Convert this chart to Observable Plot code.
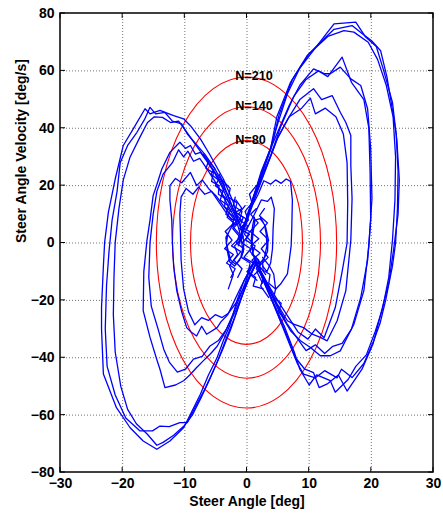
<!DOCTYPE html>
<html><head><meta charset="utf-8">
<script src="https://cdn.jsdelivr.net/npm/d3@7"></script>
<script src="https://cdn.jsdelivr.net/npm/@observablehq/plot@0.6"></script>
<style>
body{margin:0;background:#fff}
#chart svg{font-family:"Liberation Sans",Arial,sans-serif;font-weight:bold;}
#chart [aria-label^="x-axis"] text,#chart [aria-label^="y-axis"] text{font-size:14px;font-weight:bold;font-family:"Liberation Sans",Arial,sans-serif;}
</style>
</head><body><div id="chart"></div>
<script>
// ---- axis ticks ----
const xTicks = [-30, -20, -10, 0, 10, 20, 30];
const yTicks = [-80, -60, -40, -20, 0, 20, 40, 60, 80];
const xLabel = "Steer Angle [deg]";
const yLabel = "Steer Angle Velocity [deg/s]";

// ---- constant-N ellipses (semi-axes) ----
const ellipseLabels = ["N=80", "N=140", "N=210"];
const ellipseRx = [9.0, 11.9, 14.5];
const ellipseRy = [35.5, 47.3, 57.7];

// ---- right-hand loops ----
const right1 = [[-1.3,0],[-0.3,7],[0.9,15],[2.3,25],[3.8,33],[4.8,44],[7,56],[9.7,65.4],[12.4,71.2],[14,74.5],[16.9,75.8],[18.5,73],[20,70.6],[21.5,67],[22.5,58],[23.1,50.3],[24,38],[24.3,25],[24.2,12],[23.9,0],[23.4,-8],[22.3,-20],[21.4,-28],[20.4,-34],[18.8,-42],[16.9,-46.9],[15.2,-44],[14.5,-47],[12.5,-44.5],[11,-47],[9.1,-45.7],[8.1,-42],[6.8,-35],[5.5,-28],[4.2,-21],[2.8,-14],[1.3,-6]];
const right2 = [[-1.2,1],[-0.2,8],[1,16],[2.2,23],[3.5,31],[5,42],[6.5,52],[8.5,61],[11,68],[14,76.4],[17.5,77],[19,72],[20.8,68.5],[22,60],[23.4,49],[24.1,36],[24.5,22],[24.3,10],[23.6,-2],[22.8,-14],[21.6,-24],[20.3,-35],[18.5,-44],[16.1,-51.6],[14.7,-46],[13,-49],[11.6,-50.4],[10.7,-45.2],[9.3,-44],[7.8,-40],[6.2,-31],[4.6,-23],[3,-15],[1.5,-7]];
const right3 = [[-1.4,-1],[-0.4,6],[0.8,14],[2,22],[3.2,29],[3.9,33],[5.2,45],[7.3,57],[10,66],[13,72],[15.6,74],[17.2,73.5],[19.5,70],[21,64],[22.4,55],[23.5,44],[23.9,30],[23.8,15],[23.4,1],[22.8,-12],[21.8,-23],[20.6,-31],[19.2,-39],[17.5,-43],[16.3,-47.5],[14.2,-52],[13.4,-48],[11.2,-46],[10,-49.5],[8.5,-44],[7.6,-38],[6,-29],[4.3,-21],[2.7,-13],[1.2,-6]];
const right4 = [[-1.1,1],[0,9],[1.2,17],[2.4,25],[3.6,32],[5,39],[6.8,48],[8.5,55],[10.7,60.7],[12.5,59],[13.4,59],[15,61.3],[16.7,57.2],[18.3,54.9],[19.4,46.8],[19.9,32.8],[20.1,15.5],[19.6,-1],[18.8,-16.6],[17.2,-28.3],[15,-37.6],[13.4,-39.3],[11.8,-39.3],[10.2,-36.4],[8.6,-34.1],[7,-30.6],[5.2,-24],[3.5,-16],[1.6,-7]];
const right5 = [[-1.3,0],[-0.1,8],[1.1,16],[2.5,24],[3.9,31],[5.5,41],[7.5,51],[9.5,57],[11.5,60],[13,58],[15.3,64.8],[16.8,56],[18.8,50],[19.6,40],[19.8,25],[19.9,8],[19.4,-6],[18.3,-19],[16.8,-30],[15.3,-35],[13.8,-36],[12.5,-38.5],[11,-35.5],[9.5,-37.5],[8,-33],[6.4,-28],[4.7,-21],[3,-14],[1.4,-6]];
const right6 = [[-1.2,0],[-0.1,7],[1,14],[2.2,21],[3.4,28],[4.8,36],[6.5,43],[8.5,50],[10.7,53.8],[12,50],[13.7,51.4],[15,45.6],[15.9,42],[16.7,37.5],[16.7,27],[16.9,15.5],[16.7,1],[15.9,-16.6],[14.5,-27.1],[12.9,-34.1],[11.8,-32.9],[10.5,-31.8],[9.1,-29.5],[7.5,-28.3],[6.5,-27.1],[4.8,-21],[3.2,-14],[1.5,-7]];
const right7 = [[-1.3,1],[-0.2,8],[1,15],[2.3,22],[3.6,29],[5,37],[6.8,44],[8.8,47],[10.2,50.5],[11,45],[12.6,47],[14.3,44],[15.5,38],[16.1,28],[16.2,14],[16.1,0],[15.3,-10],[14.2,-22.5],[12.4,-33],[11,-30],[9.8,-33.5],[8.2,-31],[7,-27],[5.5,-22],[3.8,-16],[2,-9]];

// ---- left-hand loops ----
const left1 = [[1.2,-6],[0.3,-10],[-0.5,-13.2],[-1.6,-20],[-2.7,-28.3],[-3.8,-34],[-4.8,-39.9],[-6.2,-46],[-7.5,-52.7],[-9.1,-59.7],[-10.2,-64.4],[-12.4,-69],[-14.5,-71.9],[-16.7,-69],[-18.8,-64.4],[-21,-57.4],[-23.1,-45.7],[-23.4,-30],[-23.4,-22.5],[-23.1,-8],[-22.9,0.2],[-22.3,10.7],[-21.2,22.3],[-19.9,34],[-18.3,39.8],[-16.4,46.8],[-15.6,45],[-14,46.2],[-11.8,44.4],[-10.2,43.3],[-9.1,40.9],[-7.5,36.3],[-5.9,30.5],[-3.8,22.3],[-2.2,14.2],[-1.4,8]];
const left2 = [[1.5,-7],[0.6,-11],[-0.4,-16],[-1.5,-23],[-2.6,-30],[-3.9,-37],[-5.3,-44],[-6.8,-51],[-8.3,-57],[-9.6,-62.6],[-10.8,-62.6],[-12.5,-64],[-14,-63.8],[-15.2,-65.5],[-17.2,-65.5],[-19.5,-61],[-21.2,-53],[-22.5,-43],[-22.8,-30],[-22.6,-15],[-22.2,-3],[-21.7,8],[-20.9,18],[-20.4,28],[-19.2,34],[-17.7,38.6],[-16.5,43],[-15.6,47.3],[-14.7,45],[-13.2,45.5],[-12,42.5],[-10.5,41.5],[-9.6,38],[-8.4,35],[-6.8,31],[-5.2,26],[-3.6,19.5],[-2.3,12],[-1.2,7]];
const left3 = [[1.4,-7.5],[0.2,-12.5],[-0.9,-19],[-2,-26],[-3.3,-33],[-4.6,-40.5],[-6,-47.5],[-7.4,-54],[-8.8,-60],[-10,-63.5],[-11.8,-67],[-13.5,-69.5],[-14.5,-70.5],[-16.1,-66.5],[-17.8,-63],[-19.2,-58],[-20.3,-50],[-21.2,-38],[-21.5,-25],[-21.4,-12],[-21.2,0.2],[-20.6,12],[-19.9,22],[-18.8,30],[-17.2,37],[-16,42],[-14.9,44],[-13.6,43.8],[-12.3,42],[-11,42.5],[-9.8,39],[-8.2,34],[-6.5,29],[-4.8,23.5],[-3.2,17],[-2,11],[-1.3,7]];
const left4 = [[1.3,-6],[0.2,-11],[-1,-18],[-2.3,-25],[-3.5,-31],[-4.8,-36],[-5.9,-38.7],[-7,-41],[-8.1,-43.4],[-9.2,-46],[-10.2,-48],[-11.5,-49.5],[-13.2,-50.4],[-14,-44],[-14.6,-40],[-15.6,-32.9],[-16.7,-23.6],[-16.6,-10],[-16.1,0.8],[-15.6,8],[-15.1,16.5],[-14.4,21],[-13.7,25.8],[-12.4,31.6],[-10.8,35.1],[-9.9,33],[-9.1,34],[-8.3,31],[-7.5,31.6],[-6.3,28],[-5.1,24],[-3.9,19],[-2.7,13],[-1.6,8]];
const left5 = [[1.5,-7],[0.4,-12],[-0.8,-18.5],[-2,-24.5],[-3.3,-30],[-4.6,-34],[-6,-36],[-7.2,-39.5],[-8.6,-40.5],[-9.9,-44],[-11.2,-45],[-12.5,-41.5],[-13.4,-37],[-14.3,-30],[-15.4,-22],[-15.8,-12],[-15.6,0.2],[-15.1,10],[-14.5,18],[-13.5,24],[-12,28],[-11,32.5],[-10.2,30],[-9.5,32],[-8.6,28.5],[-7.6,29.5],[-6.5,26],[-5.3,22],[-4,17],[-2.8,12],[-1.7,7.5]];
const left6 = [[1.3,-6.5],[0.3,-10],[-0.9,-15],[-2,-20],[-3.1,-25],[-4.2,-27.5],[-4.8,-29.5],[-6.5,-31.8],[-7.3,-29],[-8.1,-32.4],[-9,-31],[-9.7,-29.5],[-10.5,-24],[-11.3,-16.6],[-11.8,-8],[-12,0],[-12.1,8],[-12.4,15],[-12.4,20],[-11.5,22.5],[-10.5,21],[-9.1,24.6],[-8.1,20],[-7.2,22],[-6.2,19],[-5,16.5],[-3.8,13],[-2.7,10],[-1.6,7]];
const left7 = [[1.4,-7],[0.4,-11.5],[-0.6,-16],[-1.8,-21],[-3,-24.5],[-4,-26],[-5.1,-25],[-6.2,-27],[-7.3,-26],[-8.4,-28.5],[-9.4,-24],[-10.2,-16],[-10.6,-6],[-10.7,3],[-10.8,10],[-10.6,16],[-9.8,19],[-8.7,17],[-7.8,19.5],[-6.8,17],[-5.7,18],[-4.6,14.5],[-3.5,11],[-2.4,8]];

// ---- small loops and scribbles around the origin ----
const centerA = [[-1.5,8],[-2.4,6],[-3.1,3],[-3.3,0],[-3.0,-3],[-2.6,-6],[-1.8,-7.5],[-1.0,-5],[-0.7,-2],[-0.9,1],[-1.2,4],[-1.6,7],[-2.5,5.5],[-3.4,2],[-3.2,-2.5],[-2.8,-6.5],[-2,-8],[-1.2,-6],[-0.6,-3],[-0.5,0.5],[-0.9,4.5],[-1.5,8]];
const centerB = [[1.2,9],[0.9,6],[0.7,2],[0.8,-2],[1.2,-5.5],[2,-7.5],[2.8,-5],[3.2,-1],[3.1,3],[2.8,6.5],[2.1,8.5],[1.3,8],[1,4],[0.8,0],[1,-4],[1.6,-7],[2.5,-6.5],[3.3,-3],[3.4,1.5],[3,5.5],[2.2,9]];
const centerC = [[-3,-16],[-2.2,-11],[-2.8,-8],[-1.5,-4],[-2,-1],[-0.6,2],[-1,5],[0.2,8],[-0.3,11],[0.8,14],[0.4,17],[1.5,20]];
const centerD = [[2.5,-14],[1.6,-10],[2.2,-7],[0.8,-4],[1.3,-1],[-0.2,1],[0.4,4],[-1.1,6],[-0.6,9],[-2,11],[-1.6,14],[-3,16],[-2.7,19],[-4,22]];
const centerE = [[-4.5,24],[-3.6,20],[-4,17],[-2.8,14],[-3.2,11],[-2,9],[-2.4,6],[-1.2,3],[-1.7,0],[-0.5,-2],[-0.9,-5],[0.5,-7],[0.2,-10],[1.4,-12],[1,-15],[2.6,-16]];
const centerF = [[3.5,-19],[2.2,-15],[2.7,-12],[1.5,-9],[1.9,-6],[0.5,-3],[0.9,0],[-0.4,3],[0.1,6],[-1.2,8],[-0.8,11],[-2.2,13],[-1.9,16]];
const centerG = [[-2.5,12],[-3.2,9],[-2.1,7],[-3.5,4],[-2.4,1],[-3.6,-2],[-2.2,-4],[-3.3,-7],[-1.9,-9],[-2.6,-12]];
const centerH = [[2.8,12],[2.0,9.5],[3.3,7],[2.1,4],[3.5,1],[2.3,-2],[3.4,-5],[2.0,-8],[3.0,-11]];
const centerI = [[-0.3,13],[-1.4,10],[0.2,8],[-1.2,5],[0.4,3],[-0.8,0],[0.6,-2],[-0.5,-5],[1,-7],[0,-10],[1.6,-13]];
const centerJ = [[-1.8,15],[-0.8,12],[-2,10.5],[-0.9,8],[-2.3,5],[-1.1,2],[-2.5,-1],[-1.0,-3],[-2.1,-6],[-0.8,-9],[-1.5,-12]];
const centerK = [[1.5,12],[0.6,10],[1.8,7],[0.5,4],[1.9,1.5],[0.6,-1],[2.1,-3.5],[0.8,-6],[2.2,-9],[1.2,-11]];
const centerL = [[-6,28],[-5.2,26],[-5.8,24],[-4.6,22],[-5.1,20],[-3.9,18],[-4.3,15],[-3.0,13],[-3.4,10],[-2.2,8]];
const centerM = [[-7,31],[-6.2,28.5],[-6.6,26],[-5.4,24.5],[-5.7,21.5],[-4.5,20],[-4.6,17],[-3.5,15.5],[-3.6,12.5],[-2.5,11]];
const centerN = [[6,-26],[5.1,-24],[5.5,-21],[4.3,-19],[4.6,-16],[3.5,-14],[3.7,-11],[2.6,-9.5],[2.5,-6.5]];
const smallR1 = [[-0.5,6],[0.6,12],[1.8,17],[2.7,21.7],[3.8,20.5],[4.6,22],[5.5,20.8],[6.3,22.3],[7,21.5],[7.3,15],[7.2,5],[7.1,-1],[6.8,-6],[6.5,-10.8],[5.4,-14.3],[4.6,-16.1],[4.3,-10.8],[3.6,-8],[2.5,-5]];
const smallR2 = [[0,5],[1.2,10],[2.3,15],[3.3,14.5],[3.9,16],[4.4,12],[4.2,5],[4.1,-2],[3.8,-7],[3.2,-10],[2.5,-8]];

const traces = [
  ["right1", right1], ["right2", right2], ["right3", right3], ["right4", right4],
  ["right5", right5], ["right6", right6], ["right7", right7],
  ["left1", left1], ["left2", left2], ["left3", left3], ["left4", left4],
  ["left5", left5], ["left6", left6], ["left7", left7],
  ["centerA", centerA], ["centerB", centerB], ["centerC", centerC], ["centerD", centerD],
  ["centerE", centerE], ["centerF", centerF], ["centerG", centerG], ["centerH", centerH],
  ["centerI", centerI], ["centerJ", centerJ], ["centerK", centerK], ["centerL", centerL],
  ["centerM", centerM], ["centerN", centerN], ["smallR1", smallR1], ["smallR2", smallR2]
];
const rows = traces.flatMap(([id, pts]) => pts.map(([x, y], i) => ({id, i, x, y})));
const ellipses = ellipseLabels.map((label, i) => ({label, rx: ellipseRx[i], ry: ellipseRy[i]}));

const [xMin, xMax] = d3.extent(xTicks);
const [yMin, yMax] = d3.extent(yTicks);

function ellipseMark(index, scales) {
  const {x, y} = scales;
  const g = d3.create("svg:g").attr("fill", "none").attr("stroke", "#ff0000").attr("stroke-width", 1.1);
  for (const e of ellipses) {
    g.append("ellipse")
      .attr("cx", x(0)).attr("cy", y(0))
      .attr("rx", x(e.rx) - x(0)).attr("ry", y(0) - y(e.ry));
  }
  return g.node();
}

function frameMark(index, scales) {
  const {x, y} = scales;
  const X0 = x(xMin), X1 = x(xMax), Y0 = y(yMin), Y1 = y(yMax);
  const g = d3.create("svg:g").attr("fill", "none").attr("stroke", "#000");
  const L = 5;
  for (const t of xTicks) {
    g.append("line").attr("x1", x(t)).attr("x2", x(t)).attr("y1", Y0).attr("y2", Y0 - L);
    g.append("line").attr("x1", x(t)).attr("x2", x(t)).attr("y1", Y1).attr("y2", Y1 + L);
  }
  for (const t of yTicks) {
    g.append("line").attr("y1", y(t)).attr("y2", y(t)).attr("x1", X0).attr("x2", X0 + L);
    g.append("line").attr("y1", y(t)).attr("y2", y(t)).attr("x1", X1).attr("x2", X1 - L);
  }
  g.append("rect").attr("x", X0).attr("y", Y1).attr("width", X1 - X0).attr("height", Y0 - Y1)
    .attr("stroke-width", 1.5);
  return g.node();
}

const chart = Plot.plot({
  width: 443,
  height: 513,
  marginLeft: 60,
  marginRight: 10,
  marginTop: 13,
  marginBottom: 41,
  style: {background: "#fff", fontFamily: "Liberation Sans, Arial, sans-serif", fontSize: "14px", color: "#000"},
  x: {domain: [xMin, xMax], ticks: xTicks, tickSize: 0, tickPadding: 6, label: null},
  y: {domain: [yMin, yMax], ticks: yTicks, tickSize: 0, tickPadding: 6, label: null},
  marks: [
    Plot.ruleX(xTicks.slice(1, -1), {stroke: "#000", strokeOpacity: 0.55, strokeDasharray: "1,2"}),
    Plot.ruleY(yTicks.slice(1, -1), {stroke: "#000", strokeOpacity: 0.55, strokeDasharray: "1,2"}),
    ellipseMark,
    Plot.line(rows, {x: "x", y: "y", z: "id", stroke: "#0000ff", strokeWidth: 1.3, curve: "linear"}),
    Plot.text(ellipses, {x: () => -1.9, y: d => d.ry + 0.6, text: "label", textAnchor: "start",
      fontWeight: "bold", fontSize: 12.7, fill: "#000"}),
    frameMark,
    Plot.text([xLabel], {frameAnchor: "bottom", dy: 33, fontWeight: "bold", fontSize: 14, fill: "#000"}),
    Plot.text([yLabel], {frameAnchor: "left", dx: -39, rotate: -90, fontWeight: "bold", fontSize: 14, fill: "#000"})
  ]
});
document.getElementById("chart").appendChild(chart);
</script>
</body></html>
